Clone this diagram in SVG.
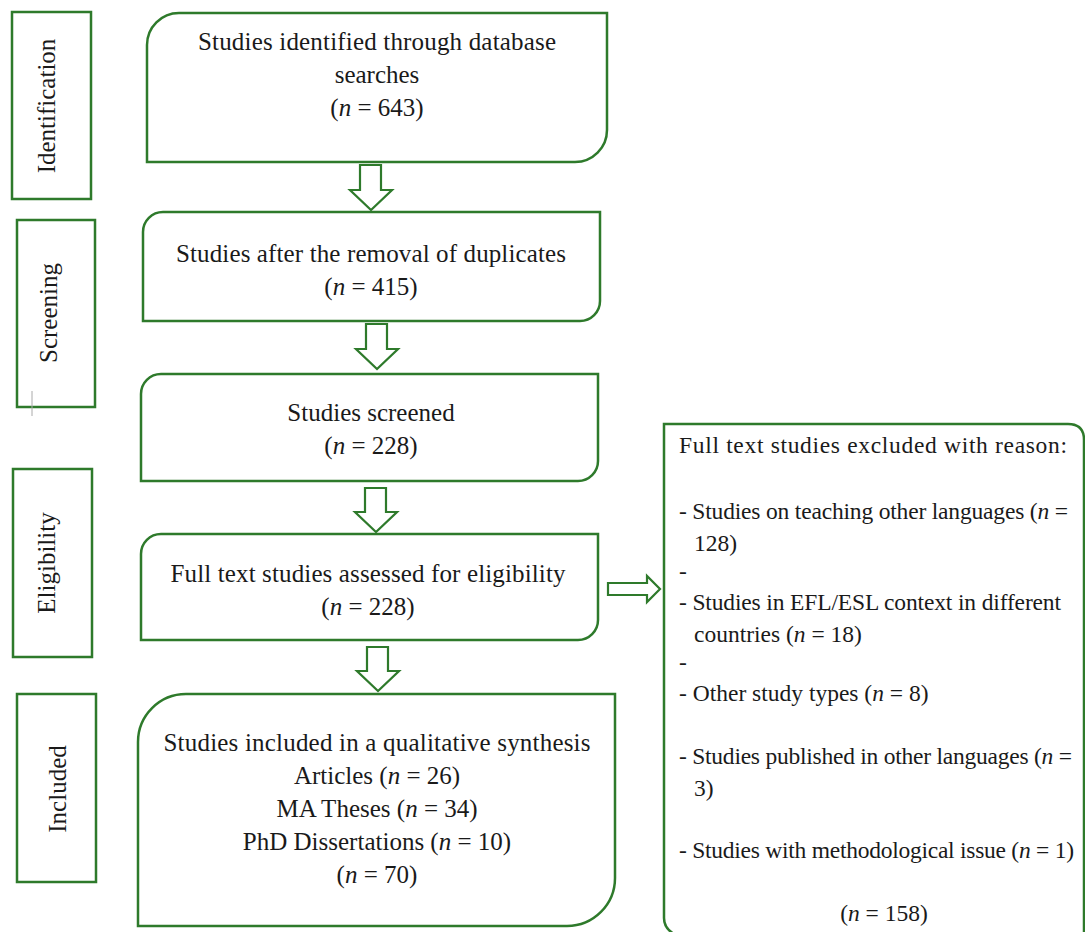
<svg xmlns="http://www.w3.org/2000/svg" width="1085" height="932" viewBox="0 0 1085 932">
<style>
.b{fill:none;stroke:#2e7a2b;stroke-width:2.5}
.ar{fill:#fff;stroke:#2e7a2b;stroke-width:2.2;stroke-linejoin:miter}
text{font-family:"Liberation Serif","Times New Roman",serif;font-size:25px;fill:#1a1a1a}
.r{font-size:23.5px}
.c{text-anchor:middle}
.i{font-style:italic}
</style>
<rect width="1085" height="932" fill="#fff"/>
<g id="lab-identification"><rect class="b" x="12" y="12" width="79" height="187"/><text class="c" transform="translate(55,106) rotate(-90)">Identification</text></g>
<g id="lab-screening"><rect class="b" x="17" y="220" width="78" height="187"/><line x1="32" y1="391" x2="32" y2="416" stroke="#aaa" stroke-width="1"/><text class="c" transform="translate(57,313) rotate(-90)">Screening</text></g>
<g id="lab-eligibility"><rect class="b" x="13" y="469" width="79" height="188"/><text class="c" transform="translate(55,563) rotate(-90)">Eligibility</text></g>
<g id="lab-included"><rect class="b" x="17" y="694" width="79" height="188"/><text class="c" transform="translate(66,789) rotate(-90)">Included</text></g>

<g id="box1"><path class="b" d="M147,45 A32,32 0 0 1 179,13 H607 V130 A32,32 0 0 1 575,162 H147 Z"/>
<text class="c" x="377" y="50" textLength="358" lengthAdjust="spacing">Studies identified through database</text>
<text class="c" x="377" y="83">searches</text>
<text class="c" x="377" y="116">(<tspan class="i">n</tspan> = 643)</text></g>

<g id="box2"><path class="b" d="M143,232 A20,20 0 0 1 163,212 H600 V301 A20,20 0 0 1 580,321 H143 Z"/>
<text class="c" x="371" y="262" textLength="390" lengthAdjust="spacing">Studies after the removal of duplicates</text>
<text class="c" x="371" y="295">(<tspan class="i">n</tspan> = 415)</text></g>

<g id="box3"><path class="b" d="M141,394 A20,20 0 0 1 161,374 H598 V461 A20,20 0 0 1 578,481 H141 Z"/>
<text class="c" x="371" y="421">Studies screened</text>
<text class="c" x="371" y="454">(<tspan class="i">n</tspan> = 228)</text></g>

<g id="box4"><path class="b" d="M141,554 A20,20 0 0 1 161,534 H598 V620 A20,20 0 0 1 578,640 H141 Z"/>
<text class="c" x="368" y="582" textLength="395" lengthAdjust="spacing">Full text studies assessed for eligibility</text>
<text class="c" x="368" y="615">(<tspan class="i">n</tspan> = 228)</text></g>

<g id="box5"><path class="b" d="M138,742 A48,48 0 0 1 186,694 H615 V878 A48,48 0 0 1 567,926 H138 Z"/>
<text class="c" x="377" y="751" textLength="427" lengthAdjust="spacing">Studies included in a qualitative synthesis</text>
<text class="c" x="377" y="784">Articles (<tspan class="i">n</tspan> = 26)</text>
<text class="c" x="377" y="817">MA Theses (<tspan class="i">n</tspan> = 34)</text>
<text class="c" x="377" y="850">PhD Dissertations (<tspan class="i">n</tspan> = 10)</text>
<text class="c" x="377" y="883">(<tspan class="i">n</tspan> = 70)</text></g>

<g id="box-excluded"><path class="b" d="M1084,945 V440 Q1084,424 1068,424 H664 V918 Q664,930 678,936"/>
<text class="r" x="679" y="453" textLength="388" lengthAdjust="spacing">Full text studies excluded with reason:</text>
<text class="r" x="679" y="519" textLength="389" lengthAdjust="spacing">- Studies on teaching other languages (<tspan class="i">n</tspan> =</text>
<text class="r" x="694" y="551">128)</text>
<text class="r" x="679" y="579">-</text>
<text class="r" x="679" y="610" textLength="382" lengthAdjust="spacing">- Studies in EFL/ESL context in different</text>
<text class="r" x="694" y="642">countries (<tspan class="i">n</tspan> = 18)</text>
<text class="r" x="679" y="670">-</text>
<text class="r" x="679" y="701">- Other study types (<tspan class="i">n</tspan> = 8)</text>
<text class="r" x="679" y="764" textLength="393" lengthAdjust="spacing">- Studies published in other languages (<tspan class="i">n</tspan> =</text>
<text class="r" x="694" y="796">3)</text>
<text class="r" x="679" y="858" textLength="395" lengthAdjust="spacing">- Studies with methodological issue (<tspan class="i">n</tspan> = 1)</text>
<text class="r c" x="884" y="921">(<tspan class="i">n</tspan> = 158)</text></g>

<g id="connectors">
<path class="ar" d="M360,165 H381 V190 H392 L371,210 L350,190 H360 Z"/>
<path class="ar" d="M366,324 H387 V349 H398 L377,369 L356,349 H366 Z"/>
<path class="ar" d="M365,488 H386 V512 H397 L376,532 L355,512 H365 Z"/>
<path class="ar" d="M367,647 H388 V671 H399 L378,691 L357,671 H367 Z"/>
<path class="ar" d="M608,583 H647 V576 L660,589 L647,602 V595 H608 Z"/>
</g>
</svg>
